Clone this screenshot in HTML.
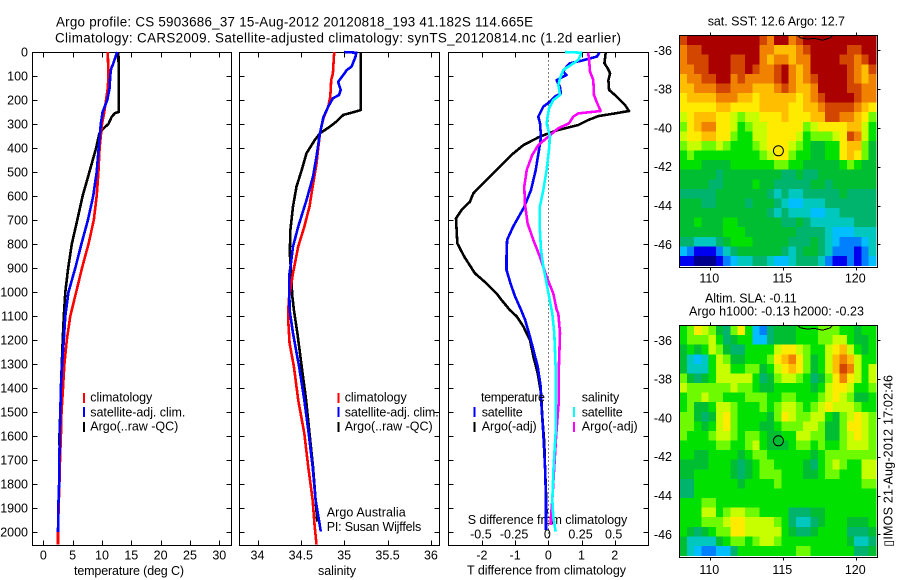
<!DOCTYPE html>
<html>
<head>
<meta charset="utf-8">
<title>Argo profile</title>
<style>
html,body{margin:0;padding:0;background:#fff;}
svg{display:block;}
text{font-family:"Liberation Sans",sans-serif;font-size:12.5px;fill:#000;}
.title{font-size:13.4px;}
</style>
</head>
<body>
<svg id="chart" xmlns="http://www.w3.org/2000/svg" width="900" height="580" viewBox="0 0 900 580">
<rect x="0" y="0" width="900" height="580" fill="#fff"/>
<text class="title" x="56" y="26.5" textLength="477">Argo profile: CS 5903686_37 15-Aug-2012 20120818_193 41.182S 114.665E</text>
<text class="title" x="55" y="42.5" textLength="566">Climatology: CARS2009. Satellite-adjusted climatology: synTS_20120814.nc (1.2d earlier)</text>

<text x="74" y="575" textLength="110">temperature (deg C)</text>
<text x="318" y="575" textLength="38">salinity</text>
<text x="467" y="574.7" textLength="159">T difference from climatology</text>
<text x="467.7" y="524" textLength="159.6">S difference from climatology</text>

<text x="707.7" y="25.7" textLength="137.3">sat. SST: 12.6 Argo: 12.7</text>
<text x="705" y="302.3" textLength="91.7">Altim. SLA: -0.11</text>
<text x="689" y="315.7" textLength="175">Argo h1000: -0.13 h2000: -0.23</text>
<text transform="translate(892.5,546.7) rotate(-90)" x="0" y="0" textLength="171.7">▯IMOS 21-Aug-2012 17:02:46</text>

<g id="layer-maps"></g>
<g id="layer-axes"></g>
<g id="layer-lines"></g>
<g id="layer-ticks"></g>

<g>
<rect x="83" y="393" width="2" height="10" fill="#f00"/>
<rect x="83" y="407" width="2" height="10" fill="#00f"/>
<rect x="83" y="422" width="2" height="10" fill="#000"/>
<text x="90.3" y="401.7" textLength="62">climatology</text>
<text x="90.3" y="416.3" textLength="95">satellite-adj. clim.</text>
<text x="90.3" y="430.7" textLength="88">Argo(..raw -QC)</text>
</g>
<g>
<rect x="337.5" y="393" width="2" height="10" fill="#f00"/>
<rect x="337.5" y="407" width="2" height="10" fill="#00f"/>
<rect x="337.5" y="422" width="2" height="10" fill="#000"/>
<text x="344.7" y="401.7" textLength="62">climatology</text>
<text x="344.7" y="416.3" textLength="94">satellite-adj. clim.</text>
<text x="344.7" y="430.7" textLength="88">Argo(..raw -QC)</text>
<text x="326.7" y="516.7" textLength="79">Argo Australia</text>
<text x="326.7" y="531" textLength="94.5">PI: Susan Wijffels</text>
</g>
<g>
<text x="481" y="401.7" textLength="64">temperature</text>
<rect x="473.5" y="407" width="2" height="10" fill="#00f"/>
<rect x="473.5" y="422" width="2" height="10" fill="#000"/>
<text x="481.7" y="416.3" textLength="41">satellite</text>
<text x="481.7" y="430.7" textLength="55">Argo(-adj)</text>
<text x="581.7" y="401.7" textLength="37.5">salinity</text>
<rect x="573" y="407" width="2" height="10" fill="#0ff"/>
<rect x="573" y="422" width="2" height="10" fill="#f0f"/>
<text x="581.7" y="416.3" textLength="41">satellite</text>
<text x="581.7" y="430.7" textLength="56">Argo(-adj)</text>
</g>
</svg>

<script>
// ---------- tick labels ----------
const depthTicks = [0,100,200,300,400,500,600,700,800,900,1000,1100,1200,1300,1400,1500,1600,1700,1800,1900,2000];
const tempTicks = [0,5,10,15,20,25,30];
const salTicks = [34,34.5,35,35.5,36];
const salTickLabels = ["34","34.5","35","35.5","36"];
const dTTicks = [-2,-1,0,1,2];
const dSTicks = [-0.5,-0.25,0,0.25,0.5];
const dSTickLabels = ["-0.5","-0.25","0","0.25","0.5"];
const lonTicks = [110,115,120];
const latTicks = [-36,-38,-40,-42,-44,-46];

// ---------- temperature profiles ----------
const tClimDepth = [0,100,150,200,250,300,400,500,600,700,800,900,1000,1100,1200,1300,1400,1500,1600,1700,1800,1900,2000,2052];
const tClimValue = [11.0,11.1,11.0,10.7,10.4,10.0,9.6,9.4,9.1,8.6,7.7,6.6,5.6,4.6,4.0,3.6,3.35,3.1,3.0,2.85,2.75,2.6,2.5,2.5];
const tSatDepth = [0,50,70,100,150,200,250,300,400,500,600,700,800,900,1000,1100,1200,1300,1400,1500,1600,1700,1800,1900,2000];
const tSatValue = [12.6,11.9,11.55,11.4,11.3,10.9,10.1,9.8,9.45,9.1,8.5,7.6,6.5,5.45,4.3,3.75,3.5,3.2,3.0,2.9,2.8,2.75,2.7,2.55,2.5];
const tArgoDepth = [0,80,250,255,270,300,320,340,400,500,600,700,800,900,1000,1100,1200,1300,1400,1500,1640];
const tArgoValue = [12.8,12.85,12.85,12.2,11.65,11.1,10.2,9.55,9.0,7.85,6.7,5.8,4.85,4.25,3.75,3.5,3.3,3.15,3.0,2.9,2.7];

// ---------- salinity profiles ----------
const sClimDepth = [0,89,117,186,228,276,339,464,575,644,728,811,922,1033,1116,1214,1311,1450,1589,1727,1866,1977,2052];
const sClimValue = [34.885,34.87,34.85,34.84,34.815,34.76,34.72,34.68,34.63,34.6,34.54,34.47,34.41,34.36,34.354,34.37,34.42,34.47,34.54,34.585,34.635,34.66,34.68];
const sSatDepth = [0,3,19,61,75,96,124,158,179,193,228,272,339,436,519,617,728,811,881,936,1075,1172,1311,1450,1589,1727,1866,1998];
const sSatValue = [35.0,35.14,35.13,35.085,35.03,34.99,34.93,34.96,34.94,34.87,34.815,34.76,34.72,34.68,34.64,34.565,34.47,34.41,34.385,34.365,34.37,34.41,34.48,34.54,34.59,34.635,34.67,34.73];
const sArgoDepth = [0,117,242,253,262,290,311,339,367,422,492,561,644,742,839,929,1013,1075,1172,1311,1450,1589,1727,1866,1957];
const sArgoValue = [35.19,35.19,35.19,35.085,34.99,34.91,34.835,34.72,34.66,34.565,34.51,34.45,34.41,34.38,34.373,34.39,34.4,34.42,34.46,34.51,34.56,34.6,34.64,34.67,34.69];

// ---------- difference profiles ----------
const dTArgoDepth = [3,47,68,89,117,158,186,221,246,256,267,283,304,325,339,356,388,429,499,547,589,624,658,693,797,853,922,964,1006,1033,1075,1102,1144,1200,1269,1339,1422,1519,1630,1727,1839,1922];
const dTArgoValue = [1.73,1.69,1.79,1.86,1.81,1.83,2.06,2.31,2.43,2.01,1.51,1.21,0.9,0.3,0,-0.3,-0.75,-1.11,-1.61,-1.96,-2.26,-2.36,-2.61,-2.78,-2.74,-2.53,-2.21,-1.86,-1.56,-1.41,-1.16,-0.95,-0.75,-0.55,-0.45,-0.32,-0.22,-0.18,-0.12,-0.1,-0.07,-0.05];
const dTSatDepth = [3,19,36,47,61,82,96,117,144,172,186,207,228,269,297,353,408,492,575,644,728,783,853,908,964,1019,1075,1116,1172,1214,1311,1394,1491,1589,1727,1866,1991];
const dTSatValue = [1.54,1.46,1.01,0.65,0.55,0.45,0.55,0.25,0.35,0.38,0.2,0.05,-0.15,-0.3,-0.25,-0.22,-0.28,-0.38,-0.52,-0.72,-1.06,-1.24,-1.26,-1.26,-1.14,-1.0,-0.82,-0.7,-0.58,-0.5,-0.32,-0.23,-0.2,-0.15,-0.1,-0.07,-0.07];
const dSSatDepth = [0,3,33,54,75,110,138,179,200,235,297,353,408,492,575,644,742,825,894,964,1075,1089,1172,1311,1450,1589,1727,1866,1936,1998];
const dSSatValue = [0.126,0.25,0.226,0.171,0.113,0.088,0.075,0.088,0.038,0.005,-0.013,0.013,0.005,-0.013,-0.038,-0.063,-0.063,-0.055,-0.038,-0.013,0.025,0.03,0.045,0.055,0.055,0.055,0.04,0.03,0.038,0.055];
const dSArgoDepth = [3,33,82,117,179,207,246,256,269,297,318,353,388,429,492,561,631,714,783,853,936,1006,1075,1089,1172,1311,1450,1589,1727,1866,1936,1970];
const dSArgoValue = [0.3,0.307,0.314,0.339,0.344,0.364,0.394,0.226,0.188,0.156,0.075,0,-0.075,-0.121,-0.163,-0.181,-0.176,-0.156,-0.113,-0.063,-0.013,0.038,0.063,0.075,0.088,0.08,0.08,0.06,0.045,0.03,0.02,0.02];

// ---------- map data (colour class per 0.5 degree cell, north to south) ----------
const sstGrid = [
[13,14,14,14,14,14,14,14,14,14,14,13,12,14,14,12,13,14,14,14,14,14,14,14,14,14,14],
[12,13,13,14,14,14,14,14,14,14,14,12,12,11,11,11,12,13,14,14,14,14,14,13,13,14,14],
[12,13,13,13,14,14,14,13,13,14,14,12,11,12,12,11,12,12,14,14,14,14,13,13,12,13,14],
[12,12,13,13,14,14,14,13,13,14,13,12,12,13,14,12,11,12,14,14,14,14,14,13,12,11,13],
[11,12,12,13,13,14,14,12,13,12,12,12,12,13,14,12,11,12,13,14,14,14,14,13,12,11,12],
[11,11,12,12,12,13,13,12,12,12,11,11,11,12,13,12,11,11,12,14,14,14,14,13,13,12,12],
[10,11,11,11,11,12,12,12,11,11,10,11,11,11,11,11,10,11,12,13,14,14,14,14,13,12,12],
[10,10,10,10,10,11,11,10,10,10,10,11,11,11,11,10,10,11,11,12,13,13,13,13,12,11,10],
[9,10,11,11,11,10,10,9,8,9,9,10,10,10,11,10,10,10,11,11,13,13,12,12,11,10,8],
[8,10,11,12,12,10,10,9,7,8,9,9,10,10,10,10,10,8,9,10,10,10,10,11,11,9,7],
[9,10,10,11,11,10,10,8,7,7,9,9,10,10,10,10,9,7,8,8,8,9,10,13,12,9,7],
[8,9,9,8,8,9,8,7,7,7,8,9,10,10,10,9,8,7,6,6,7,7,10,11,11,8,6],
[7,8,7,7,7,7,7,7,7,7,7,8,9,10,10,8,7,7,6,6,7,7,10,11,10,8,6],
[7,7,7,6,6,6,6,7,7,7,7,7,7,8,8,7,7,6,6,6,6,6,7,8,7,6,6],
[6,6,6,6,6,5,6,6,6,6,6,6,6,6,5,5,6,5,5,6,6,6,6,6,6,6,6],
[6,6,6,6,5,5,6,6,6,6,7,6,6,5,5,5,5,5,6,6,5,6,6,6,6,6,6],
[5,5,5,5,5,6,6,6,6,6,6,6,5,4,5,4,4,5,5,5,5,5,6,5,5,5,5],
[6,6,6,5,5,6,6,6,6,5,6,6,6,5,4,3,3,4,4,4,5,5,5,5,5,5,5],
[6,6,6,6,6,6,6,6,6,6,6,6,5,4,5,4,4,4,3,3,4,4,5,5,5,5,5],
[6,6,7,6,6,6,7,7,6,6,6,6,6,6,5,5,6,5,4,4,4,4,4,4,5,5,5],
[6,6,6,6,6,6,7,7,7,6,6,6,6,6,6,6,5,5,5,5,4,3,3,3,4,4,4],
[5,5,4,4,4,5,6,7,7,7,6,6,6,6,6,5,5,5,6,5,4,3,2,2,2,3,4],
[3,2,1,1,1,2,4,5,6,6,6,6,6,6,5,4,5,6,6,5,4,2,2,2,1,2,4],
[1,1,0,0,0,1,2,3,4,4,5,5,4,3,3,4,5,5,5,4,2,1,1,2,1,2,3]
];
const slaGrid = [
[7,8,10,9,8,6,5,8,10,7,3,2,5,6,6,6,7,7,7,8,8,8,7,7,6,7,7],
[7,8,8,8,9,7,5,6,7,7,3,3,5,6,6,6,7,7,7,8,8,9,9,7,6,6,7],
[6,7,6,7,9,8,6,5,5,7,7,7,7,9,10,10,9,8,7,7,9,10,11,9,7,6,7],
[6,4,3,4,7,9,8,6,6,7,7,7,8,10,11,12,10,8,6,7,9,11,12,11,9,7,7],
[6,4,4,4,7,9,9,7,7,8,8,6,7,9,10,11,10,8,6,7,9,11,13,12,9,7,9],
[8,6,5,6,7,9,9,9,9,9,7,5,6,8,9,9,8,7,5,6,8,10,12,10,9,7,9],
[9,8,8,8,8,8,8,9,8,8,7,6,6,7,7,7,7,7,6,7,9,10,10,9,7,7,8],
[7,8,8,9,8,8,7,7,7,8,8,8,7,7,8,8,7,7,7,8,9,10,9,8,6,6,7],
[7,8,6,6,7,9,9,8,7,7,7,8,7,8,9,9,8,7,8,9,10,9,9,9,8,7,7],
[8,8,6,5,6,9,10,8,7,7,7,7,6,8,10,9,8,8,9,9,7,6,8,9,10,9,8],
[8,8,7,6,7,9,10,8,7,7,7,6,6,7,8,8,8,9,9,8,6,6,8,10,10,9,8],
[8,7,7,7,8,9,9,8,7,8,8,7,6,6,7,7,9,9,8,8,6,6,8,9,10,9,8],
[7,7,7,7,7,8,8,7,7,8,9,7,6,6,6,7,8,8,7,8,7,7,8,9,9,9,8],
[7,7,6,6,7,7,7,7,6,7,8,8,7,7,7,7,7,7,6,7,8,8,8,8,8,8,8],
[6,6,6,6,7,7,7,6,5,6,7,8,8,7,7,7,7,6,5,7,8,9,8,7,7,9,9],
[6,6,7,7,7,7,7,6,5,6,7,8,8,8,7,7,7,6,6,7,8,8,7,7,7,9,9],
[5,5,7,7,7,7,7,7,6,7,7,7,7,8,7,7,7,7,7,7,7,7,7,7,7,8,8],
[5,5,7,7,7,7,7,7,7,7,7,7,7,7,7,7,7,7,7,7,7,7,7,7,7,7,7],
[7,7,7,8,8,7,7,7,7,7,7,7,7,7,7,7,7,7,7,7,7,7,7,7,7,7,7],
[7,7,7,9,9,7,8,9,9,8,8,7,7,7,7,5,5,5,6,6,7,7,7,7,7,7,7],
[7,7,7,8,8,8,9,10,10,9,9,9,9,8,7,5,4,4,5,6,7,7,7,6,6,6,7],
[7,6,5,6,7,8,8,10,10,9,9,9,9,9,7,6,5,5,6,7,7,7,7,5,5,5,6],
[6,4,4,4,4,6,7,8,8,7,8,9,9,8,7,7,7,7,7,7,7,7,7,6,4,4,5],
[6,4,3,2,2,3,3,5,7,7,7,7,7,7,7,7,8,8,7,7,7,7,7,7,5,5,6]
];
const coastLon = [116.0,116.2,116.7,117.1,117.7,118.2,118.4];
const coastLat = [-35.26,-35.36,-35.43,-35.38,-35.48,-35.36,-35.22];
const profileLon = [114.665];
const profileLat = [-41.182];

// ---------- drawing ----------
const NS = 'http://www.w3.org/2000/svg';
const layerMaps = document.getElementById('layer-maps');
const layerAxes = document.getElementById('layer-axes');
const layerLines = document.getElementById('layer-lines');
const layerTicks = document.getElementById('layer-ticks');

const palette = ['#00008c','#0000f0','#0080ff','#00beff','#00c8be','#00b46e','#00be32','#00e100','#6efa00','#c8ff00','#ffeb00','#ffbe00','#f08200','#d24600','#aa0000'];

function yDepth(d){ return 52 + d * 0.24; }
function xTemp(t){ return 43.3 + t * 5.867; }
function xSal(s){ return 257.5 + (s - 34) * 86.7; }
function xDT(t){ return 548.3 + t * 33.2; }
function xDS(s){ return 548.3 + s * 132.8; }
function xLon(lon){ return 710.3 + (lon - 110) * 14.6; }
function yLatTop(lat){ return 50.3 - (lat + 36) * 19.4; }
function yLatBottom(lat){ return 340.3 - (lat + 36) * 19.4; }

function svgEl(tag, parent){
  const el = document.createElementNS(NS, tag);
  parent.appendChild(el);
  return el;
}

function hLine(x1, x2, y, parent){
  const l = svgEl('line', parent);
  l.setAttribute('x1', x1); l.setAttribute('x2', x2);
  l.setAttribute('y1', y); l.setAttribute('y2', y);
  l.setAttribute('stroke', '#000');
  l.setAttribute('shape-rendering', 'crispEdges');
  
  
}
function vLine(x, y1, y2, parent){
  const l = svgEl('line', parent);
  l.setAttribute('x1', x); l.setAttribute('x2', x);
  l.setAttribute('y1', y1); l.setAttribute('y2', y2);
  l.setAttribute('stroke', '#000');
  l.setAttribute('shape-rendering', 'crispEdges');
  
  
}
function label(str, x, y, anchor){
  const t = svgEl('text', layerTicks);
  t.setAttribute('x', x);
  t.setAttribute('y', y);
  t.setAttribute('text-anchor', anchor);
  t.textContent = str;
  
  
}
function frame(x, y, w, h, name){
  const r = svgEl('rect', layerAxes);
  r.setAttribute('x', x); r.setAttribute('y', y);
  r.setAttribute('width', w); r.setAttribute('height', h);
  r.setAttribute('fill', 'none');
  r.setAttribute('stroke', '#000');
  r.setAttribute('shape-rendering', 'crispEdges');
  
  
}
function profile(depths, values, xFn, color, name){
  const p = svgEl('polyline', layerLines);
  p.setAttribute('points', depths.map(function(d, i){ return xFn(values[i]).toFixed(1) + ',' + yDepth(d).toFixed(1); }).join(' '));
  p.setAttribute('fill', 'none');
  p.setAttribute('stroke', color);
  p.setAttribute('stroke-width', '2.6');
  p.setAttribute('stroke-linejoin', 'round');
  p.setAttribute('shape-rendering', 'crispEdges');
  
  
}

// panels
const panelLeft = [32.5, 239.5, 448.5];
const panelRight = [231.5, 439.5, 648.5];
const panelTop = 52.5;
const panelBottom = 545.5;
const panelNames = ['temperature-panel','salinity-panel','difference-panel'];
panelLeft.forEach(function(lx, i){
  frame(lx, panelTop, panelRight[i] - lx, panelBottom - panelTop, panelNames[i]);
  depthTicks.forEach(function(d){
    const y = Math.round(yDepth(d)) + 0.5;
    if (d > 0) {
      hLine(panelRight[i] - 5, panelRight[i], y, layerTicks);
      hLine(lx, lx + 5, y, layerTicks);
    }
  });
});
depthTicks.forEach(function(d){
  label(String(d), 28, yDepth(d) + 4.5, 'end');
});

function xTicks(ticks, labels, xFn, labelY){
  ticks.forEach(function(v, i){
    const x = Math.round(xFn(v)) + 0.5;
    vLine(x, panelTop, panelTop + 5, layerTicks);
    vLine(x, panelBottom - 5, panelBottom, layerTicks);
    label(labels[i], xFn(v), labelY, 'middle');
  });
}
xTicks(tempTicks, tempTicks.map(String), xTemp, 559.3);
xTicks(salTicks, salTickLabels, xSal, 559.3);
xTicks(dTTicks, dTTicks.map(String), xDT, 559.3);
dSTicks.forEach(function(v, i){
  label(dSTickLabels[i], xDS(v) - 1, 538.7, 'middle');
});

// zero reference line in difference panel
const zeroLine = svgEl('line', layerLines);
zeroLine.setAttribute('x1', Math.round(xDT(0)) + 0.5);
zeroLine.setAttribute('x2', Math.round(xDT(0)) + 0.5);
zeroLine.setAttribute('y1', panelTop);
zeroLine.setAttribute('y2', panelBottom);
zeroLine.setAttribute('stroke', '#000');
zeroLine.setAttribute('stroke-dasharray', '1 3');
zeroLine.setAttribute('shape-rendering', 'crispEdges');



// profiles
profile(tArgoDepth, tArgoValue, xTemp, '#000', 'temperature-argo-line');
profile(tClimDepth, tClimValue, xTemp, '#f00', 'temperature-climatology-line');
profile(tSatDepth, tSatValue, xTemp, '#00f', 'temperature-satellite-line');
profile(sArgoDepth, sArgoValue, xSal, '#000', 'salinity-argo-line');
profile(sClimDepth, sClimValue, xSal, '#f00', 'salinity-climatology-line');
profile(sSatDepth, sSatValue, xSal, '#00f', 'salinity-satellite-line');
profile(dTArgoDepth, dTArgoValue, xDT, '#000', 't-difference-argo-line');
profile(dTSatDepth, dTSatValue, xDT, '#00f', 't-difference-satellite-line');
profile(dSArgoDepth, dSArgoValue, xDS, '#f0f', 's-difference-argo-line');
profile(dSSatDepth, dSSatValue, xDS, '#0ff', 's-difference-satellite-line');

// maps
function drawMap(grid, yLat, top, bottom, cellName, labelY){
  const left = 679.5, right = 877.5;
  const colW = 196.5 / grid[0].length;
  const rowH = (bottom - top - 2) / grid.length;
  grid.forEach(function(row, r){
    row.forEach(function(v, c){
      const cell = svgEl('rect', layerMaps);
      cell.setAttribute('x', (left + c * colW).toFixed(2));
      cell.setAttribute('y', (top + r * rowH).toFixed(2));
      cell.setAttribute('width', (colW + 0.4).toFixed(2));
      cell.setAttribute('height', (rowH + 0.4).toFixed(2));
      cell.setAttribute('fill', palette[v]);
      cell.setAttribute('shape-rendering', 'crispEdges');
      
      
    });
  });
  frame(left, top, right - left, bottom - top, cellName + '-frame');
  lonTicks.forEach(function(lon){
    const x = Math.round(xLon(lon)) + 0.5;
    vLine(x, top - 3, top, layerTicks);
    vLine(x, bottom, bottom + 3, layerTicks);
    label(String(lon), xLon(lon) - 1, labelY, 'middle');
  });
  latTicks.forEach(function(lat){
    const y = Math.round(yLat(lat)) + 0.5;
    hLine(right, right + 3, y, layerTicks);
    label(String(lat), 672, yLat(lat) + 4.5, 'end');
  });
  const coast = svgEl('polyline', layerLines);
  coast.setAttribute('points', coastLon.map(function(lon, i){ return xLon(lon).toFixed(1) + ',' + yLat(coastLat[i]).toFixed(1); }).join(' '));
  coast.setAttribute('fill', 'none');
  coast.setAttribute('stroke', '#000');
  coast.setAttribute('shape-rendering', 'crispEdges');
  
  
  const marker = svgEl('circle', layerLines);
  marker.setAttribute('cx', xLon(profileLon[0]).toFixed(1));
  marker.setAttribute('cy', yLat(profileLat[0]).toFixed(1));
  marker.setAttribute('r', '5');
  marker.setAttribute('fill', 'none');
  marker.setAttribute('stroke', '#000');
  
  
}
drawMap(sstGrid, yLatTop, 35.5, 267.5, 'sst-map-cell', 282.7);
drawMap(slaGrid, yLatBottom, 325.5, 557.5, 'sla-map-cell', 574);
</script>
</body>
</html>
